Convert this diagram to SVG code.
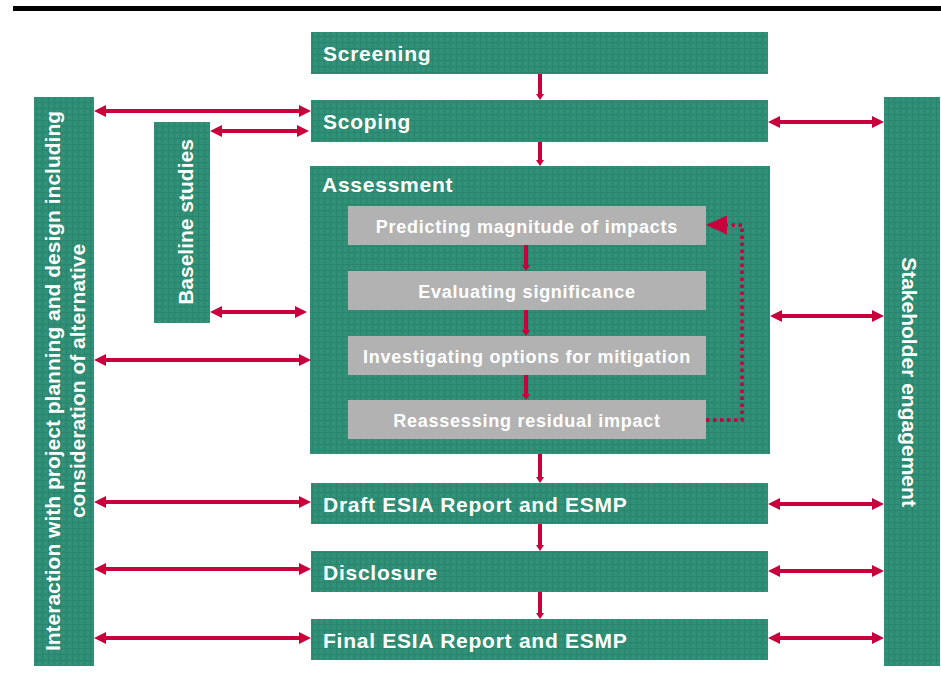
<svg xmlns="http://www.w3.org/2000/svg" width="941" height="697" viewBox="0 0 941 697">
<style>
.g{fill:url(#tex)}
.gray{fill:#b2b2b2}
.t{font-family:"Liberation Sans",Arial,sans-serif;font-weight:bold;font-size:21px;fill:#ffffff;letter-spacing:0.75px}
.v{font-family:"Liberation Sans",Arial,sans-serif;font-weight:bold;font-size:21px;fill:#ffffff}
.i{font-family:"Liberation Sans",Arial,sans-serif;font-weight:bold;font-size:18px;fill:#ffffff;letter-spacing:0.75px;text-anchor:middle}
.h{stroke:#c8003c;stroke-width:4;fill:none}
.d{stroke:#c8003c;stroke-width:4;fill:none}
.dot{stroke:#c8003c;stroke-width:3.5;fill:none;stroke-dasharray:3.5 3.5}
</style>
<defs>
<pattern id="tex" width="6" height="6" patternUnits="userSpaceOnUse">
<rect width="6" height="6" fill="#2f8f77"/>
<rect x="0" y="0" width="1" height="6" fill="#26806a" opacity="0.7"/>
<rect x="0" y="0" width="6" height="1" fill="#26806a" opacity="0.7"/>
<rect x="3" y="3" width="1" height="1" fill="#3a9a82"/>
</pattern>
<marker id="ha" markerUnits="userSpaceOnUse" markerWidth="12" markerHeight="12" refX="8" refY="6" orient="auto-start-reverse" viewBox="0 0 12 12">
<path d="M0,0 L12,6 L0,12 z" fill="#c8003c"/>
</marker>
<marker id="da" markerUnits="userSpaceOnUse" markerWidth="6" markerHeight="8" refX="3" refY="4" orient="auto" viewBox="0 0 6 8">
<path d="M0,0 L6,4 L0,8 z" fill="#c8003c"/>
</marker>
<marker id="fa" markerUnits="userSpaceOnUse" markerWidth="21" markerHeight="19" refX="19" refY="9.5" orient="auto" viewBox="0 0 21 19">
<path d="M0,0 L21,9.5 L0,19 z" fill="#c8003c"/>
</marker>
</defs>
<rect x="13" y="6" width="928" height="5" fill="#000000"/>

<g id="interaction">
<rect class="g" x="34" y="97" width="60" height="569"/>
<text class="v" text-anchor="middle" transform="translate(60,381) rotate(-90)">Interaction with project planning and design including</text>
<text class="v" text-anchor="middle" transform="translate(85,381) rotate(-90)">consideration of alternative</text>
</g>
<g id="baseline">
<rect class="g" x="154" y="122" width="56" height="201"/>
<text class="v" text-anchor="middle" transform="translate(193,222) rotate(-90)">Baseline studies</text>
</g>
<g id="stakeholder">
<rect class="g" x="884" y="97" width="56" height="569"/>
<text class="v" text-anchor="middle" transform="translate(902,382) rotate(90)">Stakeholder engagement</text>
</g>
<g id="screening">
<rect class="g" x="311" y="32" width="457" height="42"/>
<text class="t" x="323" y="61">Screening</text>
</g>
<g id="scoping">
<rect class="g" x="311" y="100" width="457" height="42"/>
<text class="t" x="323" y="129">Scoping</text>
</g>
<g id="assessment">
<rect class="g" x="310" y="166" width="460" height="288"/>
<text class="t" x="322" y="192">Assessment</text>
</g>
<g id="predicting">
<rect class="gray" x="348" y="206" width="358" height="39"/>
<text class="i" x="527" y="233">Predicting magnitude of impacts</text>
</g>
<g id="evaluating">
<rect class="gray" x="348" y="271" width="358" height="39"/>
<text class="i" x="527" y="298">Evaluating significance</text>
</g>
<g id="investigating">
<rect class="gray" x="348" y="336" width="358" height="39"/>
<text class="i" x="527" y="363">Investigating options for mitigation</text>
</g>
<g id="reassessing">
<rect class="gray" x="348" y="400" width="358" height="39"/>
<text class="i" x="527" y="427">Reassessing residual impact</text>
</g>
<g id="draft">
<rect class="g" x="311" y="483" width="457" height="41"/>
<text class="t" x="323" y="512">Draft ESIA Report and ESMP</text>
</g>
<g id="disclosure">
<rect class="g" x="311" y="551" width="457" height="41"/>
<text class="t" x="323" y="580">Disclosure</text>
</g>
<g id="final">
<rect class="g" x="311" y="619" width="457" height="41"/>
<text class="t" x="323" y="648">Final ESIA Report and ESMP</text>
</g>

<g id="connectors">
<line class="h" x1="98" y1="111" x2="307" y2="111" marker-start="url(#ha)" marker-end="url(#ha)"/>
<line class="h" x1="214" y1="131" x2="305" y2="131" marker-start="url(#ha)" marker-end="url(#ha)"/>
<line class="h" x1="214" y1="312" x2="303" y2="312" marker-start="url(#ha)" marker-end="url(#ha)"/>
<line class="h" x1="98" y1="360" x2="307" y2="360" marker-start="url(#ha)" marker-end="url(#ha)"/>
<line class="h" x1="98" y1="502" x2="307" y2="502" marker-start="url(#ha)" marker-end="url(#ha)"/>
<line class="h" x1="98" y1="569" x2="307" y2="569" marker-start="url(#ha)" marker-end="url(#ha)"/>
<line class="h" x1="98" y1="638" x2="307" y2="638" marker-start="url(#ha)" marker-end="url(#ha)"/>
<line class="h" x1="772" y1="122" x2="880" y2="122" marker-start="url(#ha)" marker-end="url(#ha)"/>
<line class="h" x1="774" y1="316" x2="880" y2="316" marker-start="url(#ha)" marker-end="url(#ha)"/>
<line class="h" x1="772" y1="504" x2="880" y2="504" marker-start="url(#ha)" marker-end="url(#ha)"/>
<line class="h" x1="772" y1="571" x2="880" y2="571" marker-start="url(#ha)" marker-end="url(#ha)"/>
<line class="h" x1="772" y1="638" x2="880" y2="638" marker-start="url(#ha)" marker-end="url(#ha)"/>
<line class="d" x1="540" y1="74" x2="540" y2="97" marker-end="url(#da)"/>
<line class="d" x1="540" y1="142" x2="540" y2="163" marker-end="url(#da)"/>
<line class="d" x1="540" y1="454" x2="540" y2="480" marker-end="url(#da)"/>
<line class="d" x1="540" y1="524" x2="540" y2="548" marker-end="url(#da)"/>
<line class="d" x1="540" y1="592" x2="540" y2="616" marker-end="url(#da)"/>
<line class="d" x1="526" y1="245" x2="526" y2="268" marker-end="url(#da)"/>
<line class="d" x1="526" y1="310" x2="526" y2="333" marker-end="url(#da)"/>
<line class="d" x1="526" y1="375" x2="526" y2="397" marker-end="url(#da)"/>
<path class="dot" d="M706,420 H742 V225 H708" marker-end="url(#fa)"/>
</g>
</svg>
